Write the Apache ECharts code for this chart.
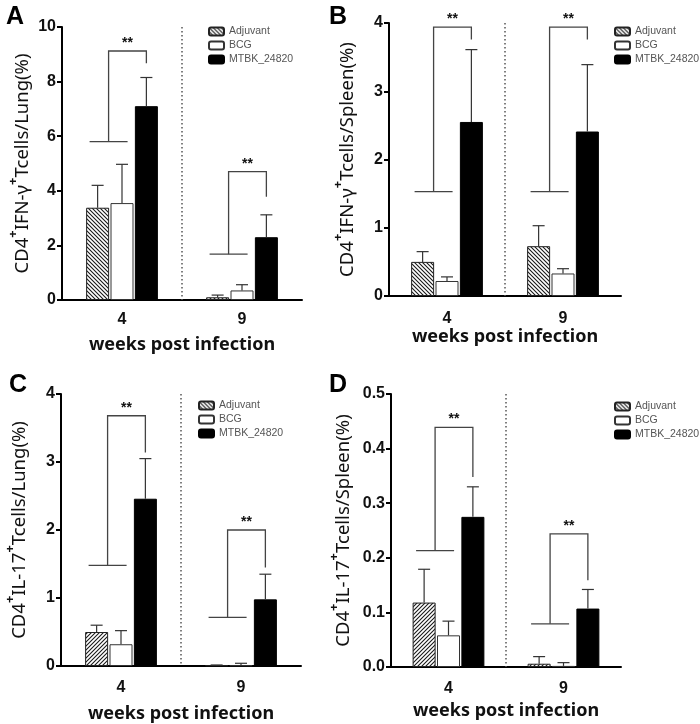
<!DOCTYPE html>
<html>
<head>
<meta charset="utf-8">
<script src="https://cdn.jsdelivr.net/npm/echarts@6/dist/echarts.min.js"></script>
<style>
html,body{margin:0;padding:0;background:#fff;}
#chart{width:700px;height:724px;}
</style>
</head>
<body>
<div id="chart"></div>
<script>
// ---------- DATA ----------
const categories = ['4', '9'];
const seriesNames = ['Adjuvant', 'BCG', 'MTBK_24820'];

// Panel A: CD4+ IFN-γ+ T cells / Lung (%)
const aAdjuvant = [3.38, 0.10];
const aAdjuvantErr = [4.20, 0.18];
const aBCG = [3.55, 0.35];
const aBCGErr = [4.97, 0.56];
const aMTBK = [7.10, 2.30];
const aMTBKErr = [8.15, 3.12];
const aBracketLow = [5.80, 1.68];
const aBracketTop = [9.12, 4.70];
const aBracketLeg = [8.67, 3.78];
const aYTicks = [0, 2, 4, 6, 8, 10];

// Panel B: CD4+ IFN-γ+ T cells / Spleen (%)
const bAdjuvant = [0.50, 0.73];
const bAdjuvantErr = [0.65, 1.03];
const bBCG = [0.22, 0.33];
const bBCGErr = [0.28, 0.40];
const bMTBK = [2.55, 2.41];
const bMTBKErr = [3.61, 3.39];
const bBracketLow = [1.53, 1.53];
const bBracketTop = [3.94, 3.94];
const bBracketLeg = [3.76, 3.76];
const bYTicks = [0, 1, 2, 3, 4];

// Panel C: CD4+ IL-17+ T cells / Lung (%)
const cAdjuvant = [0.50, 0.01];
const cAdjuvantErr = [0.60, 0.015];
const cBCG = [0.32, 0.01];
const cBCGErr = [0.52, 0.04];
const cMTBK = [2.46, 0.98];
const cMTBKErr = [3.05, 1.35];
const cBracketLow = [1.48, 0.715];
const cBracketTop = [3.68, 2.00];
const cBracketLeg = [3.14, 1.45];
const cYTicks = [0, 1, 2, 3, 4];

// Panel D: CD4+ IL-17+ T cells / Spleen (%)
const dAdjuvant = [0.118, 0.006];
const dAdjuvantErr = [0.179, 0.019];
const dBCG = [0.058, 0.002];
const dBCGErr = [0.084, 0.008];
const dMTBK = [0.275, 0.107];
const dMTBKErr = [0.330, 0.142];
const dBracketLow = [0.213, 0.079];
const dBracketTop = [0.439, 0.244];
const dBracketLeg = [0.348, 0.159];
const dYTicks = [0, 0.1, 0.2, 0.3, 0.4, 0.5];

const xAxisTitle = 'weeks post infection';
const panelLetters = ['A', 'B', 'C', 'D'];
const yTitles = [
  ['CD4', '+', 'IFN-γ', '+', 'Tcells/Lung(%)'],
  ['CD4', '+', 'IFN-γ', '+', 'Tcells/Spleen(%)'],
  ['CD4', '+', 'IL-17', '+', 'Tcells/Lung(%)'],
  ['CD4', '+', 'IL-17', '+', 'Tcells/Spleen(%)']
];

// ---------- STYLE / LAYOUT ----------
const BAR_W = 23;
const BAR_GAP = 0.06;
const PITCH = BAR_W * (1 + BAR_GAP);

function hatch(dir) {
  const s = 4;
  const c = document.createElement('canvas');
  c.width = s; c.height = s;
  const g = c.getContext('2d');
  g.fillStyle = '#fff'; g.fillRect(0, 0, s, s);
  g.strokeStyle = '#1a1a1a'; g.lineWidth = 1.1;
  g.beginPath();
  if (dir === 'back') {
    g.moveTo(-1, -1); g.lineTo(s + 1, s + 1);
    g.moveTo(s - 1, -1); g.lineTo(s + 1, 1);
    g.moveTo(-1, s - 1); g.lineTo(1, s + 1);
  } else {
    g.moveTo(-1, s + 1); g.lineTo(s + 1, -1);
    g.moveTo(-1, 1); g.lineTo(1, -1);
    g.moveTo(s - 1, s + 1); g.lineTo(s + 1, s - 1);
  }
  g.stroke();
  return c;
}

const panels = [
  {data: [aAdjuvant, aBCG, aMTBK], err: [aAdjuvantErr, aBCGErr, aMTBKErr],
   br: [aBracketLow, aBracketTop, aBracketLeg], ticks: aYTicks, dec: 0, hatch: 'back'},
  {data: [bAdjuvant, bBCG, bMTBK], err: [bAdjuvantErr, bBCGErr, bMTBKErr],
   br: [bBracketLow, bBracketTop, bBracketLeg], ticks: bYTicks, dec: 0, hatch: 'back'},
  {data: [cAdjuvant, cBCG, cMTBK], err: [cAdjuvantErr, cBCGErr, cMTBKErr],
   br: [cBracketLow, cBracketTop, cBracketLeg], ticks: cYTicks, dec: 0, hatch: 'fwd'},
  {data: [dAdjuvant, dBCG, dMTBK], err: [dAdjuvantErr, dBCGErr, dMTBKErr],
   br: [dBracketLow, dBracketTop, dBracketLeg], ticks: dYTicks, dec: 1, hatch: 'fwd'}
];

const layout = [
  {grid: {left: 62, top: 27, width: 240, height: 273}, legend: {left: 203, top: 21},
   letter: {left: 1, top: 0}, yGap: 30, xGap: 36, xMargin: 12},
  {grid: {left: 389, top: 23, width: 232, height: 273}, legend: {left: 609, top: 21},
   letter: {left: 324, top: 0}, yGap: 32, xGap: 31, xMargin: 15},
  {grid: {left: 61, top: 394, width: 240, height: 273}, legend: {left: 193, top: 395},
   letter: {left: 4, top: 368}, yGap: 32, xGap: 39, xMargin: 14},
  {grid: {left: 391, top: 394, width: 230, height: 273}, legend: {left: 609, top: 396},
   letter: {left: 324, top: 368}, yGap: 38, xGap: 35, xMargin: 14}
];

const option = {
  animation: false,
  backgroundColor: '#fff',
  title: [], grid: [], xAxis: [], yAxis: [], legend: [], series: []
};

const axisLineStyle = {color: '#000', width: 2};

panels.forEach((p, i) => {
  const L = layout[i];
  option.grid.push(L.grid);
  option.title.push({text: panelLetters[i], left: L.letter.left, top: L.letter.top,
    textStyle: {fontFamily: 'Liberation Sans, Arial', fontWeight: 'bold', fontSize: 25, color: '#000'}});
  option.legend.push({
    orient: 'vertical', left: L.legend.left, top: L.legend.top,
    itemWidth: 15, itemHeight: 8, itemGap: 3,
    textStyle: {fontFamily: 'Liberation Sans, Arial', fontSize: 10.5, color: '#555'},
    data: seriesNames, selectedMode: false
  });
  option.xAxis.push({
    type: 'category', gridIndex: i, data: categories,
    axisLine: {lineStyle: axisLineStyle},
    axisTick: {alignWithLabel: true, length: 5, lineStyle: {color: '#000', width: 2}},
    axisLabel: {margin: L.xMargin, fontFamily: 'Liberation Sans, Arial', fontWeight: 'bold', fontSize: 16, color: '#111'},
    name: xAxisTitle, nameLocation: 'middle', nameGap: L.xGap,
    nameTextStyle: {fontFamily: 'Noto Sans', fontWeight: 'bold', fontSize: 18, color: '#111'}
  });
  const t = yTitles[i];
  option.yAxis.push({
    type: 'value', gridIndex: i,
    min: p.ticks[0], max: p.ticks[p.ticks.length - 1], interval: p.ticks[1] - p.ticks[0],
    splitLine: {show: false},
    axisLine: {show: true, lineStyle: axisLineStyle},
    axisTick: {show: true, length: 5, lineStyle: {color: '#000', width: 2}},
    axisLabel: {margin: 6, fontFamily: 'Liberation Sans, Arial', fontWeight: 'bold', fontSize: 16, color: '#111',
      formatter: v => v.toFixed(p.dec)},
    name: '{m|' + t[0] + '}{s|' + t[1] + '}{m|' + t[2] + '}{s|' + t[3] + '}{m|' + t[4] + '}',
    nameLocation: 'middle', nameGap: L.yGap, nameRotate: 90,
    nameTextStyle: {
      rich: {
        m: {fontFamily: 'Noto Sans', fontSize: 18.5, color: '#111', lineHeight: 25, verticalAlign: 'bottom'},
        s: {fontFamily: 'Noto Sans', fontSize: 13, fontWeight: 'bold', color: '#111', lineHeight: 25, verticalAlign: 'top'}
      }
    }
  });

  const styles = [
    {color: {image: hatch(p.hatch), repeat: 'repeat'}, borderColor: '#222', borderWidth: 1},
    {color: '#fff', borderColor: '#333', borderWidth: 1},
    {color: '#000', borderColor: '#000', borderWidth: 1}
  ];
  seriesNames.forEach((name, s) => {
    option.series.push({
      type: 'bar', name: name, xAxisIndex: i, yAxisIndex: i,
      data: p.data[s], barWidth: BAR_W, barGap: (BAR_GAP * 100) + '%',
      itemStyle: styles[s], z: 2
    });
  });

  // error bars (upper only)
  const errData = [];
  seriesNames.forEach((name, s) => {
    categories.forEach((c, k) => errData.push([k, s, p.data[s][k], p.err[s][k]]));
  });
  option.series.push({
    type: 'custom', xAxisIndex: i, yAxisIndex: i, z: 3, silent: true,
    data: errData,
    renderItem: (params, api) => {
      const k = api.value(0), s = api.value(1);
      const b = api.coord([k, api.value(2)]);
      const e = api.coord([k, api.value(3)]);
      const x = b[0] + (s - 1) * PITCH;
      const st = {stroke: '#333', lineWidth: 1.2};
      return {type: 'group', children: [
        {type: 'line', shape: {x1: x, y1: b[1], x2: x, y2: e[1]}, style: st},
        {type: 'line', shape: {x1: x - 6, y1: e[1], x2: x + 6, y2: e[1]}, style: st}
      ]};
    }
  });

  // significance brackets
  const brData = categories.map((c, k) => [k, p.br[0][k], p.br[1][k], p.br[2][k]]);
  option.series.push({
    type: 'custom', xAxisIndex: i, yAxisIndex: i, z: 4, silent: true, clip: false,
    data: brData,
    renderItem: (params, api) => {
      const k = api.value(0);
      const cx = api.coord([k, 0])[0];
      const vx = cx - 0.55 * PITCH;
      const rx = cx + PITCH;
      const yl = api.coord([k, api.value(1)])[1];
      const yt = api.coord([k, api.value(2)])[1];
      const yg = api.coord([k, api.value(3)])[1];
      const st = {stroke: '#444', lineWidth: 1.3, fill: null};
      return {type: 'group', children: [
        {type: 'line', shape: {x1: vx - 19, y1: yl, x2: vx + 19, y2: yl}, style: st},
        {type: 'polyline', shape: {points: [[vx, yl], [vx, yt], [rx, yt], [rx, yg]]}, style: st},
        {type: 'text', x: (vx + rx) / 2, y: yt - 1,
         style: {text: '**', fontFamily: 'Liberation Sans, Arial', fontWeight: 'bold', fontSize: 14,
                 fill: '#111', align: 'center', verticalAlign: 'bottom'}}
      ]};
    }
  });

  // dotted separator between the two time points
  option.series.push({
    type: 'custom', xAxisIndex: i, yAxisIndex: i, z: 1, silent: true,
    data: [[0]],
    renderItem: (params, api) => {
      const x = (api.coord([0, 0])[0] + api.coord([1, 0])[0]) / 2;
      const cs = params.coordSys;
      return {type: 'line', shape: {x1: x, y1: cs.y, x2: x, y2: cs.y + cs.height},
        style: {stroke: '#555', lineWidth: 1.5, lineDash: [1.5, 2.5]}};
    }
  });
});

const chart = echarts.init(document.getElementById('chart'), null, {renderer: 'canvas'});
chart.setOption(option);
</script>
</body>
</html>
